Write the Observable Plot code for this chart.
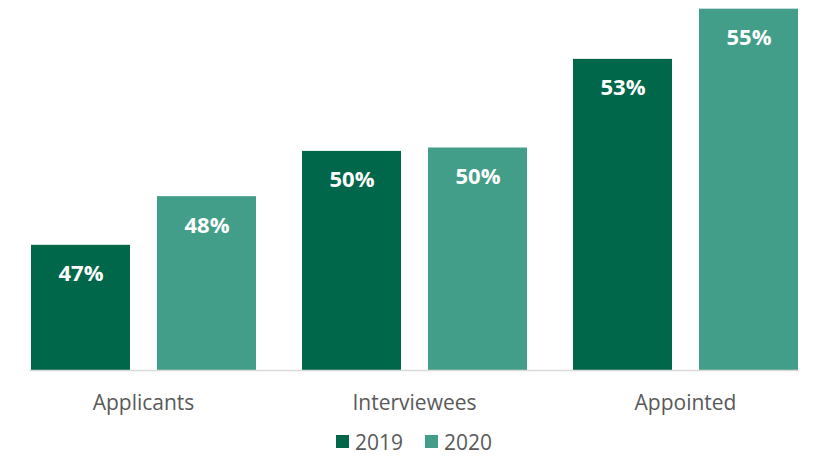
<!DOCTYPE html>
<html>
<head>
<meta charset="utf-8">
<script src="https://cdn.jsdelivr.net/npm/d3@7"></script>
<script src="https://cdn.jsdelivr.net/npm/@observablehq/plot@0.6"></script>
<style>
  html, body { margin: 0; padding: 0; background: #fff; }
  #chart { width: 814px; }
  #chart svg { display: block; }
  .legend { display: flex; justify-content: center; align-items: center; margin-top: 0px; height: 24px;
            font-family: "Open Sans", sans-serif; font-size: 21px; line-height: 24px; color: #595959; padding-left: 14px; }
  .legend .item { display: flex; align-items: center; margin: 0 11px; }
  .legend .sw { width: 13px; height: 13px; margin-right: 6px; }
</style>
</head>
<body>
<div id="chart"></div>
<script>
const categories = ["Applicants", "Interviewees", "Appointed"];
const years = ["2019", "2020"];
const values2019 = [46.88, 49.91, 52.88];
const values2020 = [48.45, 50.02, 54.5];
const colors = ["#00674a", "#429e89"];
const yMin = 42.84;
const yMax = 54.78;

const data = categories.flatMap((c, i) => [
  {category: c, year: years[0], value: values2019[i]},
  {category: c, year: years[1], value: values2020[i]}
]);

const chart = Plot.plot({
  width: 814,
  height: 429.5,
  marginLeft: 7,
  marginRight: 0,
  marginTop: 0,
  marginBottom: 59.5,
  style: {fontFamily: "Open Sans, sans-serif", color: "#595959", background: "#fff"},
  fx: {domain: categories, paddingInner: 0.165, paddingOuter: 0.0682, align: 0.603, label: null},
  x: {domain: years, paddingInner: 0.2165, paddingOuter: 0, axis: null},
  y: {domain: [yMin, yMax], axis: null},
  color: {domain: years, range: colors},
  marks: [
    Plot.barY(data, {fx: "category", x: "year", y1: yMin, y2: "value", fill: "year"}),
    Plot.text(data, {fx: "category", x: "year", y: "value", text: d => Math.round(d.value) + "%",
      fill: "white", fontWeight: "bold", fontSize: 22, lineAnchor: "middle", dy: 29}),
    Plot.frame({anchor: "bottom", stroke: "#d9d9d9", strokeWidth: 1.5, facet: "super"}),
    Plot.axisFx({anchor: "bottom", tickSize: 0, tickPadding: 25, fontSize: 21, label: null})
  ]
});
document.getElementById("chart").appendChild(chart);

const legend = document.createElement("div");
legend.className = "legend";
years.forEach((y, i) => {
  const item = document.createElement("div");
  item.className = "item";
  const sw = document.createElement("span");
  sw.className = "sw";
  sw.style.background = colors[i];
  const t = document.createElement("span");
  t.textContent = y;
  item.appendChild(sw);
  item.appendChild(t);
  legend.appendChild(item);
});
document.getElementById("chart").appendChild(legend);
</script>
</body>
</html>
